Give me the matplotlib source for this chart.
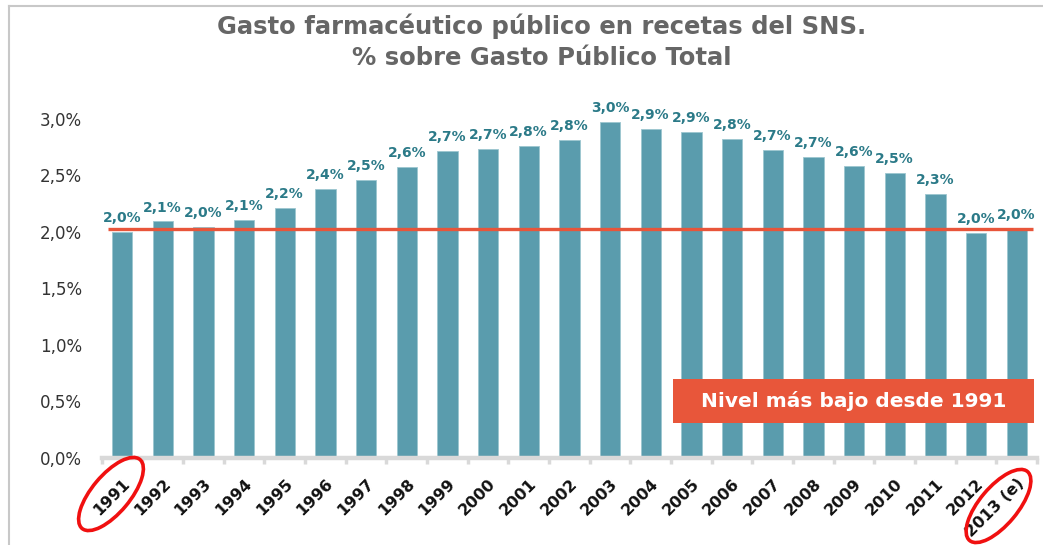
import numpy as np
import matplotlib.pyplot as plt
import matplotlib.transforms as mtransforms
from matplotlib.patches import Ellipse, Rectangle
from matplotlib.lines import Line2D

plt.rcParams['font.family'] = ['DejaVu Sans']

# Datos
anios = ['1991', '1992', '1993', '1994', '1995', '1996', '1997', '1998',
         '1999', '2000', '2001', '2002', '2003', '2004', '2005', '2006',
         '2007', '2008', '2009', '2010', '2011', '2012', '2013 (e)']
gasto = [2.00, 2.09, 2.04, 2.10, 2.21, 2.38, 2.46, 2.57, 2.71, 2.73, 2.76,
         2.81, 2.97, 2.91, 2.88, 2.82, 2.72, 2.66, 2.58, 2.52, 2.33, 1.99, 2.02]
etiquetas = ['2,0%', '2,1%', '2,0%', '2,1%', '2,2%', '2,4%', '2,5%', '2,6%',
             '2,7%', '2,7%', '2,8%', '2,8%', '3,0%', '2,9%', '2,9%', '2,8%',
             '2,7%', '2,7%', '2,6%', '2,5%', '2,3%', '2,0%', '2,0%']
nivel_minimo = 2.02
yticks = [0.0, 0.5, 1.0, 1.5, 2.0, 2.5, 3.0]

W, H = 1043, 545
fig = plt.figure(figsize=(W / 100, H / 100), dpi=100)
ax = fig.add_axes([101.7 / W, 87 / H, (1037 - 101.7) / W, 339.5 / H])

x = np.arange(len(anios))
ax.bar(x, gasto, 0.5, color='#5a9cad', edgecolor='#9cc6d0', linewidth=0.6, zorder=2)
for xi, v, s in zip(x, gasto, etiquetas):
    ax.annotate(s, (xi, v), xytext=(0, 5), textcoords='offset points',
                ha='center', va='bottom', fontsize=10, fontweight='bold',
                color='#2b7a88', clip_on=False)

ax.hlines(nivel_minimo, -0.35, 22.4, color='#e8553a', linewidth=2.4, zorder=3)

ax.set_xlim(-0.5, 22.5)
ax.set_ylim(0, 3.0)
for sp in ['top', 'right', 'left']:
    ax.spines[sp].set_visible(False)
ax.spines['bottom'].set_color('#d9d9d9')
ax.spines['bottom'].set_linewidth(3.2)

ax.set_yticks(yticks)
ax.set_yticklabels([f"{v:.1f}%".replace('.', ',') for v in yticks])
ax.tick_params(axis='y', length=0, pad=14, labelsize=12, labelcolor='#333333')

ax.set_xticks(x)
ax.set_xticklabels(anios, rotation=45, ha='right', rotation_mode='anchor',
                   fontsize=11.5, fontweight='bold', color='#111111')
ax.tick_params(axis='x', which='major', length=0, pad=13)
ax.set_xticks(np.arange(-0.5, 23, 1), minor=True)
ax.tick_params(axis='x', which='minor', length=4, width=2.5, color='#d9d9d9')

# Titulo
fig.text(0.519, 1 - 26 / H, 'Gasto farmacéutico público en recetas del SNS.',
         ha='center', va='center', fontsize=17.5, fontweight='bold', color='#666666')
fig.text(0.519, 1 - 58 / H, '% sobre Gasto Público Total',
         ha='center', va='center', fontsize=17.5, fontweight='bold', color='#666666')

# Marco
fig.add_artist(Line2D([9 / W, 1], [1 - 6 / H, 1 - 6 / H], color='#c8c8c8', linewidth=1.5))
fig.add_artist(Line2D([9 / W, 9 / W], [0, 1 - 6 / H], color='#c8c8c8', linewidth=1.5))

# Recuadro rojo
fig.add_artist(Rectangle((673 / W, 1 - 423 / H), (1034 - 673) / W, 44 / H,
                         facecolor='#e8563a', edgecolor='none', zorder=5))
fig.text((673 + 1034) / 2 / W, 1 - 401 / H, 'Nivel más bajo desde 1991',
         ha='center', va='center', fontsize=14.5, fontweight='bold', color='white', zorder=6)

# Elipses
for cx, cy in [(111, 494), (998.5, 506)]:
    fig.add_artist(Ellipse((cx / 100, (H - cy) / 100), 0.90, 0.38, angle=50,
                           transform=fig.dpi_scale_trans, fill=False,
                           edgecolor='#f01010', linewidth=2.6, zorder=7))

fig.savefig('out.png', dpi=100)
